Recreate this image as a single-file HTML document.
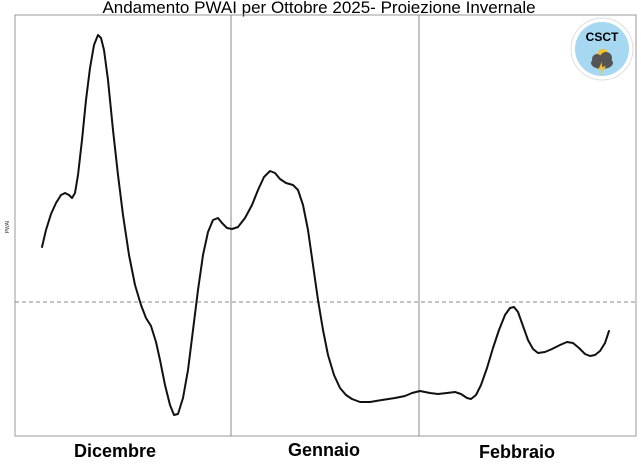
<!DOCTYPE html>
<html><head><meta charset="utf-8"><style>
body{margin:0;background:#fff;width:641px;height:465px;overflow:hidden}
</style></head><body>
<svg width="641" height="465" viewBox="0 0 641 465" xmlns="http://www.w3.org/2000/svg">
<text x="319" y="13" text-anchor="middle" font-family="Liberation Sans, sans-serif" font-size="17">Andamento PWAI per Ottobre 2025- Proiezione Invernale</text>
<rect x="15" y="15" width="621" height="421" fill="none" stroke="#999" stroke-width="1"/>
<line x1="231" y1="15" x2="231" y2="436" stroke="#888" stroke-width="1"/>
<line x1="419" y1="15" x2="419" y2="436" stroke="#888" stroke-width="1"/>
<line x1="15" y1="302" x2="636" y2="302" stroke="#888" stroke-width="1" stroke-dasharray="4,3"/>
<text x="9" y="227" transform="rotate(-90 9 227)" text-anchor="middle" font-family="Liberation Sans, sans-serif" font-size="5" fill="#333">PWAI</text>
<polyline fill="none" stroke="#111" stroke-width="2" stroke-linejoin="round" stroke-linecap="round" points="42,247 46,230 51,214 56,203 61,195 65,193 69,195 72,198 75,193 78,175 82,140 86,100 90,68 94,45 98,35 101,38 104,50 108,80 113,130 118,175 123,215 129,255 135,285 141,305 146,318 151,326 156,342 160,360 165,385 170,405 174,415 178,414 183,398 188,370 193,330 198,290 203,255 208,232 213,220 218,218 222,223 227,228 232,229 238,227 245,218 252,205 258,190 264,177 270,171 275,173 280,179 286,183 293,185 298,190 303,205 308,230 313,265 318,300 323,330 328,355 334,375 340,388 346,395 352,399 360,402 370,402 382,400 395,398 405,396 412,393 420,391 430,393 438,394 447,393 455,392 461,394 467,398 471,399 476,395 481,385 487,368 493,348 499,330 505,315 510,308 514,307 518,312 523,326 528,340 533,349 538,353 545,352 552,349 560,345 567,342 573,343 579,348 585,354 590,356 595,355 600,351 605,343 609,331"/>
<text x="115" y="457" text-anchor="middle" font-family="Liberation Sans, sans-serif" font-weight="bold" font-size="18">Dicembre</text>
<text x="324" y="456" text-anchor="middle" font-family="Liberation Sans, sans-serif" font-weight="bold" font-size="18">Gennaio</text>
<text x="517" y="458" text-anchor="middle" font-family="Liberation Sans, sans-serif" font-weight="bold" font-size="18">Febbraio</text>
<circle cx="602" cy="49" r="31" fill="#fff" stroke="#ddd"/>
<circle cx="602" cy="49" r="27" fill="#a6d8f2"/>
<text x="602" y="41" text-anchor="middle" font-family="Liberation Sans, sans-serif" font-weight="bold" font-size="12">CSCT</text>
<circle cx="603" cy="55" r="6" fill="#f2c230"/>
<ellipse cx="602" cy="63" rx="11" ry="6" fill="#555"/>
<circle cx="597" cy="59" r="5" fill="#555"/>
<circle cx="606" cy="58" r="6" fill="#555"/>
<polygon points="602,62 598,70 602,69 600,76 606,66 602,67" fill="#f2c230"/>
</svg>
</body></html>
